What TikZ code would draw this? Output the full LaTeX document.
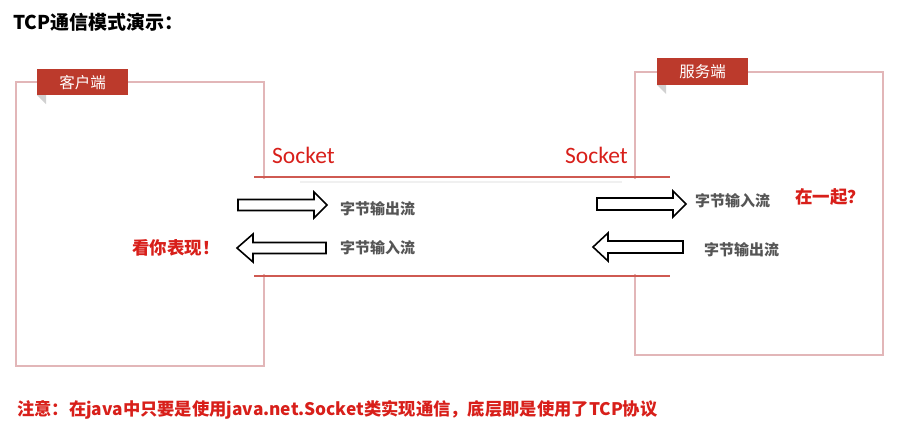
\documentclass[tikz,border=0pt]{standalone}
\usepackage{fontspec}
\setmainfont{Noto Sans CJK SC}
\newfontfamily\cjk{Noto Sans CJK SC}
\newfontfamily\latin{Carlito}
\definecolor{tabred}{HTML}{BC3A2C}
\definecolor{boxpink}{HTML}{E2B6B8}
\definecolor{linered}{HTML}{CF5A52}
\definecolor{txtred}{HTML}{D81F1A}
\definecolor{greytxt}{HTML}{555555}
\begin{document}
\begin{tikzpicture}[x=1pt,y=-1pt,
  panel/.style={draw=boxpink,line width=1.2pt},
  tab/.style={fill=tabred},
  tabtxt/.style={text=white,font=\cjk\fontsize{15.5}{17}\selectfont,inner sep=0pt},
  fold/.style={fill=black!18},
  sockline/.style={draw=linered,line width=2pt},
  sockshadow/.style={draw=black!6,line width=2.5pt},
  socktxt/.style={text=txtred,font=\latin\fontsize{23.5}{25}\selectfont,inner sep=0pt,anchor=west},
  blockarrow/.style={draw=black,fill=white,line width=1.6pt,line join=miter},
  streamtxt/.style={text=greytxt,font=\cjk\bfseries\fontsize{15}{17}\selectfont,inner sep=0pt,anchor=west},
  redbold/.style={text=txtred,font=\cjk\bfseries\fontsize{17.5}{19}\selectfont,inner sep=0pt,anchor=west}]
\useasboundingbox[fill=white] (0,0) rectangle (901,431);
% title
\node[anchor=west,inner sep=0pt,font=\cjk\bfseries\fontsize{19}{21}\selectfont] (title) at (13,22) {TCP通信模式演示：};
% panels
\draw[panel] (16,82) rectangle (264,366);
\draw[panel] (635,72) rectangle (883,355);
% white band between socket lines
\fill[white] (250,179) rectangle (675,274);
% socket lines
\draw[sockshadow] (300,182) -- (622,182);
\draw[sockline] (254,177) -- (670,177);
\draw[sockline] (254,276) -- (670,276);
% tabs
\node[tab,minimum width=91pt,minimum height=26pt,inner sep=0pt,anchor=north west] (ctab) at (37,69) {};
\node[tabtxt] (ctxt) at (ctab.center) {客户端};
\fill[fold] (37,95) -- (46,95) -- (46,104) -- cycle;
\node[tab,minimum width=91pt,minimum height=27pt,inner sep=0pt,anchor=north west] (stab) at (657,58) {};
\node[tabtxt] (stxt) at (stab.center) {服务端};
\fill[fold] (657,85) -- (666,85) -- (666,94) -- cycle;
% socket labels
\node[socktxt] (sockL) at (272,155) {Socket};
\node[socktxt] (sockR) at (565,155) {Socket};
% arrows
\draw[blockarrow] (238,199.5) -- (314,199.5) -- (314,192) -- (327,205) -- (314,218) -- (314,210.5) -- (238,210.5) -- cycle;
\draw[blockarrow] (326,242.5) -- (253,242.5) -- (253,234) -- (237,248) -- (253,262) -- (253,253.5) -- (326,253.5) -- cycle;
\draw[blockarrow] (597,198) -- (673,198) -- (673,191) -- (686,204) -- (673,217) -- (673,210) -- (597,210) -- cycle;
\draw[blockarrow] (683,241) -- (608,241) -- (608,233) -- (593,247) -- (608,261) -- (608,253) -- (683,253) -- cycle;
% stream labels
\node[streamtxt] (s1) at (340,209) {字节输出流};
\node[streamtxt] (s2) at (340,248) {字节输入流};
\node[streamtxt] (s3) at (695,201) {字节输入流};
\node[streamtxt] (s4) at (704,250) {字节输出流};
% red remarks
\node[redbold] (show) at (132,248) {看你表现！};
\node[redbold] (tog) at (795,197) {在一起？};
\node[anchor=west,inner sep=0pt,text=txtred,font=\cjk\bfseries\fontsize{17.3}{19}\selectfont] (note) at (17,410) {注意：在java中只要是使用java.net.Socket类实现通信，底层即是使用了TCP协议};
\end{tikzpicture}
\end{document}
